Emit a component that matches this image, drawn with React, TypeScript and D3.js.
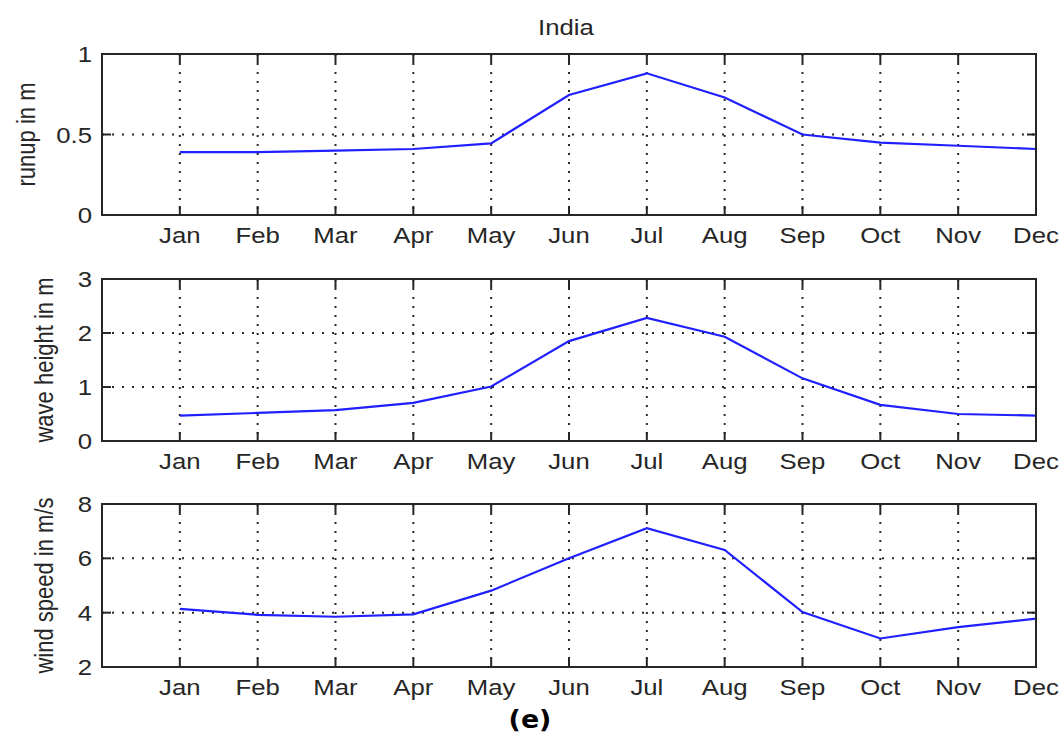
import React from "react";
import * as d3 from "d3";

const months = ["Jan", "Feb", "Mar", "Apr", "May", "Jun", "Jul", "Aug", "Sep", "Oct", "Nov", "Dec"];
const runup = [0.39, 0.39, 0.40, 0.41, 0.445, 0.745, 0.88, 0.73, 0.50, 0.45, 0.43, 0.41];
const waveHeight = [0.47, 0.52, 0.57, 0.705, 1.01, 1.85, 2.28, 1.93, 1.16, 0.67, 0.50, 0.47];
const windSpeed = [4.14, 3.92, 3.85, 3.94, 4.81, 6.0, 7.11, 6.31, 4.02, 3.05, 3.47, 3.78];

const runupTicks = [0, 0.5, 1];
const waveTicks = [0, 1, 2, 3];
const windTicks = [2, 4, 6, 8];

const title = "India";
const caption = "(e)";

const W = 1062;
const H = 735;
const LEFT = 102;
const RIGHT = 1036;
const SX = 1.17;
const FONT = "'Liberation Sans', Arial, Helvetica, sans-serif";
const AX = "#262626";

type PanelProps = {
  top: number;
  bottom: number;
  values: number[];
  ticks: number[];
  label: string;
  labelX: number;
  fmt: (v: number) => string;
};

function Panel({ top, bottom, values, ticks, label, labelX, fmt }: PanelProps) {
  const x = d3.scaleLinear().domain([0, 12]).range([LEFT, RIGHT]);
  const y = d3.scaleLinear().domain([ticks[0], ticks[ticks.length - 1]]).range([bottom, top]);
  const line = d3
    .line<number>()
    .x((_, i) => x(i + 1))
    .y((d) => y(d));
  const tickLen = 9;
  return (
    <g>
      {months.map((m, i) => (
        <line
          key={"vg" + m}
          x1={x(i + 1)}
          x2={x(i + 1)}
          y1={top}
          y2={bottom}
          stroke="#2a2a2a"
          strokeWidth={2}
          strokeDasharray="2,7"
        />
      ))}
      {ticks.map((t) => (
        <line
          key={"hg" + t}
          x1={LEFT}
          x2={RIGHT}
          y1={y(t)}
          y2={y(t)}
          stroke="#2a2a2a"
          strokeWidth={2}
          strokeDasharray="2,8"
        />
      ))}
      <path d={line(values) || ""} fill="none" stroke="#1f1fff" strokeWidth={2.2} />
      <rect x={LEFT} y={top} width={RIGHT - LEFT} height={bottom - top} fill="none" stroke={AX} strokeWidth={2} />
      {months.map((m, i) => (
        <g key={"xt" + m}>
          <line x1={x(i + 1)} x2={x(i + 1)} y1={bottom} y2={bottom - tickLen} stroke={AX} strokeWidth={2} />
          <line x1={x(i + 1)} x2={x(i + 1)} y1={top} y2={top + tickLen} stroke={AX} strokeWidth={2} />
          <text
            transform={`translate(${x(i + 1)},${bottom + 28}) scale(${SX},1)`}
            textAnchor="middle"
            fontFamily={FONT}
            fontSize={22}
            fill={AX}
          >
            {m}
          </text>
        </g>
      ))}
      {ticks.map((t) => (
        <g key={"yt" + t}>
          <line x1={LEFT} x2={LEFT + tickLen} y1={y(t)} y2={y(t)} stroke={AX} strokeWidth={2} />
          <line x1={RIGHT} x2={RIGHT - tickLen} y1={y(t)} y2={y(t)} stroke={AX} strokeWidth={2} />
          <text
            transform={`translate(${LEFT - 10},${y(t) + 8}) scale(${SX},1)`}
            textAnchor="end"
            fontFamily={FONT}
            fontSize={22}
            fill={AX}
          >
            {fmt(t)}
          </text>
        </g>
      ))}
      <text
        transform={`translate(${labelX},${(top + bottom) / 2}) scale(${SX},1) rotate(-90)`}
        textAnchor="middle"
        fontFamily={FONT}
        fontSize={22}
        fill={AX}
      >
        {label}
      </text>
    </g>
  );
}

export default function App() {
  return (
    <svg
      width={W}
      height={H}
      style={{ position: "absolute", left: 0, top: 0, background: "#fff" }}
    >
      <rect x={0} y={0} width={W} height={H} fill="#fff" />
      <text
        transform={`translate(${(LEFT + RIGHT) / 2 - 3},35) scale(${SX},1)`}
        textAnchor="middle"
        fontFamily={FONT}
        fontSize={22}
        fill={AX}
      >
        {title}
      </text>
      <Panel top={54} bottom={215} values={runup} ticks={runupTicks} label="runup in m" labelX={35} fmt={(v) => String(v)} />
      <Panel top={279} bottom={441} values={waveHeight} ticks={waveTicks} label="wave height in m" labelX={53} fmt={(v) => String(v)} />
      <Panel top={504} bottom={667} values={windSpeed} ticks={windTicks} label="wind speed in m/s" labelX={53} fmt={(v) => String(v)} />
      <text
        transform={`translate(530,728) scale(1.12,1)`}
        textAnchor="middle"
        fontFamily="'DejaVu Sans', Verdana, sans-serif"
        fontWeight="bold"
        fontSize={24}
        fill="#000"
      >
        {caption}
      </text>
    </svg>
  );
}
